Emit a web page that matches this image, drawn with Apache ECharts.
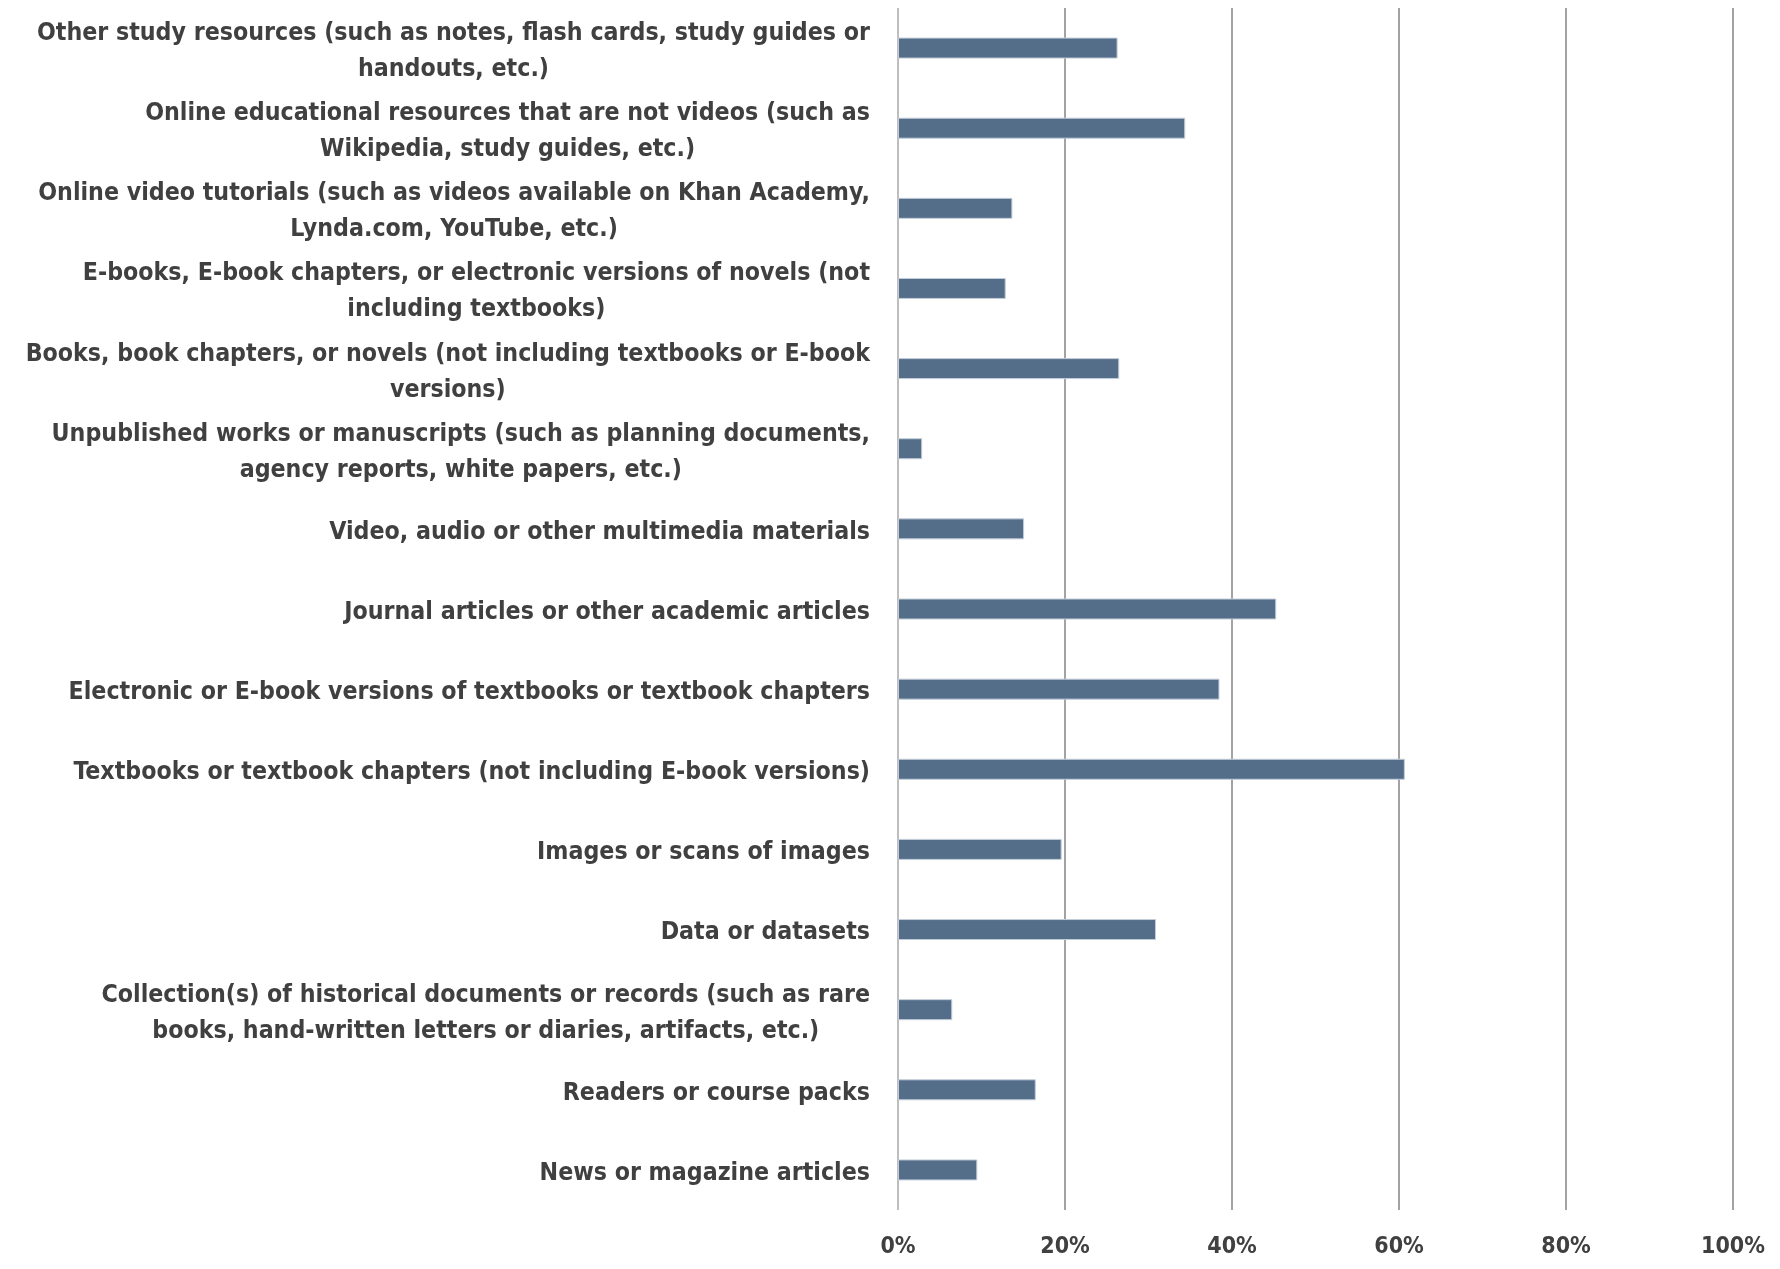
<!DOCTYPE html>
<html>
<head>
<meta charset="utf-8">
<title>Resource types</title>
<script src="https://cdn.jsdelivr.net/npm/echarts@6/dist/echarts.min.js"></script>
<style>
  html, body { margin: 0; padding: 0; background: #fff; }
  #chart { width: 1780px; height: 1269px; }
</style>
</head>
<body>
<div id="chart"></div>
<script>
// categories from top to bottom, line breaks as in the original
const categories = [
  "Other study resources (such as notes, flash cards, study guides or\nhandouts, etc.)",
  "Online educational resources that are not videos (such as\nWikipedia, study guides, etc.)",
  "Online video tutorials (such as videos available on Khan Academy,\nLynda.com, YouTube, etc.)",
  "E-books, E-book chapters, or electronic versions of novels (not\nincluding textbooks)",
  "Books, book chapters, or novels (not including textbooks or E-book\nversions)",
  "Unpublished works or manuscripts (such as planning documents,\nagency reports, white papers, etc.)",
  "Video, audio or other multimedia materials",
  "Journal articles or other academic articles",
  "Electronic or E-book versions of textbooks or textbook chapters",
  "Textbooks or textbook chapters (not including E-book versions)",
  "Images or scans of images",
  "Data or datasets",
  "Collection(s) of historical documents or records (such as rare\nbooks, hand-written letters or diaries, artifacts, etc.)",
  "Readers or course packs",
  "News or magazine articles"
]

// percent of respondents
const values = [26.3, 34.4, 13.7, 12.9, 26.5, 2.9, 15.1, 45.3, 38.5, 60.7, 19.6, 30.9, 6.5, 16.5, 9.5]

const xTicks = { min: 0, max: 100, interval: 20 }

const textColor = "#404040"
const fontFamily = "'Liberation Sans Narrow', 'DejaVu Sans Condensed', 'Liberation Sans', sans-serif"

const myChart = echarts.init(document.getElementById("chart"))

const option = {
  animation: false,
  grid: {
    left: 898,
    right: 47,
    top: 8,
    bottom: 59,
    containLabel: false,
    outerBoundsMode: "none"
  },
  xAxis: {
    type: "value",
    min: xTicks.min,
    max: xTicks.max,
    interval: xTicks.interval,
    axisLine: { show: false },
    axisTick: { show: false },
    splitLine: {
      show: true,
      lineStyle: {
        color: ["#a8a8a8", "#858585", "#858585", "#858585", "#858585", "#858585"],
        width: 1.5
      }
    },
    axisLabel: {
      formatter: "{value}%",
      margin: 26,
      color: textColor,
      fontFamily: fontFamily,
      fontWeight: "bold",
      fontSize: 23
    }
  },
  yAxis: {
    type: "category",
    inverse: true,
    data: categories,
    axisLine: { show: false },
    axisTick: { show: false },
    splitLine: { show: false },
    axisLabel: {
      margin: 28,
      interval: 0,
      padding: [7, 0, 0, 0],
      formatter: (v) => v.split("\n").map((l) => "{c|" + l + "}").join("\n"),
      rich: {
        c: {
          align: "center",
          color: textColor,
          fontFamily: fontFamily,
          fontWeight: "bold",
          fontSize: 24.7,
          lineHeight: 36
        }
      }
    }
  },
  series: [
    {
      type: "bar",
      data: values,
      barWidth: 21,
      itemStyle: {
        color: "#546e8a",
        borderColor: "#c3ceda",
        borderWidth: 1
      }
    }
  ]
}

myChart.setOption(option)
window.addEventListener("resize", () => {
  myChart.resize()
})
</script>
</body>
</html>
